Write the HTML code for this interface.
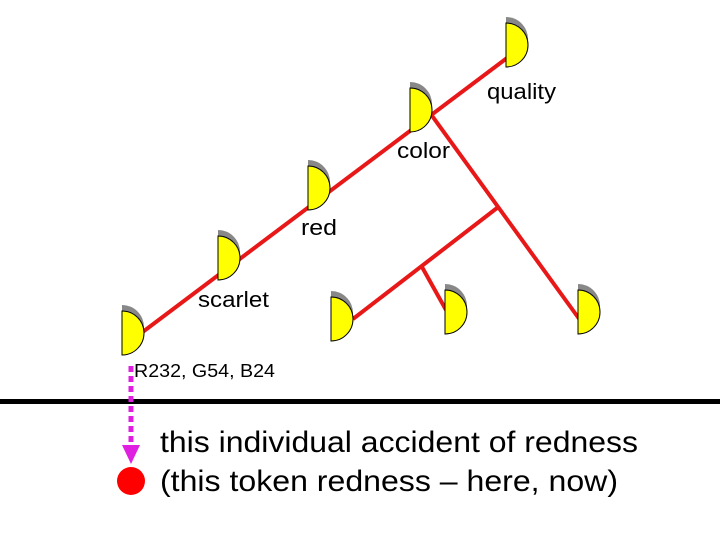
<!DOCTYPE html>
<html><head><style>body{margin:0;background:#fff}svg{display:block}</style></head><body>
<svg width="720" height="540" xmlns="http://www.w3.org/2000/svg" font-family="Liberation Sans, Arial, sans-serif">
<defs>
<g id="h"><path d="M0,-6 A22,22 0 0 1 0,38 Z" fill="#888"/><path d="M0,0 A22,22 0 0 1 0,44 Z" fill="#ffff00" stroke="#000" stroke-width="1"/></g>
</defs>
<g stroke="#e81818" stroke-width="4" fill="none">
<line x1="140" y1="334" x2="507" y2="58"/>
<line x1="430" y1="113" x2="580" y2="320"/>
<line x1="497" y1="208" x2="353" y2="319"/>
<line x1="422" y1="267" x2="446" y2="310"/>
</g>
<use href="#h" x="506" y="23"/>
<use href="#h" x="410" y="88"/>
<use href="#h" x="308" y="166"/>
<use href="#h" x="218" y="236"/>
<use href="#h" x="122" y="311"/>
<use href="#h" x="331" y="297"/>
<use href="#h" x="445" y="290"/>
<use href="#h" x="578" y="290"/>
<g font-size="22" fill="#000">
<text x="487" y="99" textLength="69" lengthAdjust="spacingAndGlyphs">quality</text>
<text x="397" y="158" textLength="53" lengthAdjust="spacingAndGlyphs">color</text>
<text x="301" y="235" textLength="36" lengthAdjust="spacingAndGlyphs">red</text>
<text x="198" y="307" textLength="71" lengthAdjust="spacingAndGlyphs">scarlet</text>
</g>
<text x="134" y="377" font-size="18" textLength="141" lengthAdjust="spacingAndGlyphs">R232, G54, B24</text>
<rect x="0" y="399" width="720" height="5" fill="#000"/>
<line x1="131" y1="366" x2="131" y2="448" stroke="#e020e0" stroke-width="5" stroke-dasharray="6,4"/>
<polygon points="122,445 140,445 131,464" fill="#e020e0"/>
<circle cx="131" cy="481" r="14" fill="#ff0000"/>
<g font-size="30" fill="#000">
<text x="160" y="452" textLength="478" lengthAdjust="spacingAndGlyphs">this individual accident of redness</text>
<text x="160" y="491" textLength="458" lengthAdjust="spacingAndGlyphs">(this token redness – here, now)</text>
</g>
</svg>
</body></html>
